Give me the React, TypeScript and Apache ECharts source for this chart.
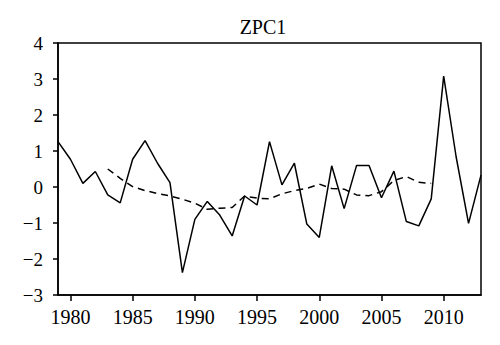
import React, { useEffect, useRef } from "react";
import * as echarts from "echarts";

const years = Array.from({ length: 35 }, (_, i) => 1979 + i);
const zpc1 = [1.26, 0.77, 0.10, 0.43, -0.22, -0.44, 0.77, 1.29, 0.66, 0.12, -2.38, -0.90, -0.40, -0.78, -1.36, -0.25, -0.50, 1.26, 0.06, 0.66, -1.03, -1.40, 0.59, -0.60, 0.60, 0.60, -0.30, 0.44, -0.96, -1.08, -0.33, 3.08, 0.84, -1.01, 0.33];
const trendYears = Array.from({ length: 27 }, (_, i) => 1983 + i);
const trend = [0.50, 0.24, 0.01, -0.10, -0.18, -0.25, -0.34, -0.45, -0.62, -0.59, -0.57, -0.25, -0.31, -0.33, -0.19, -0.10, -0.04, 0.08, -0.04, -0.06, -0.22, -0.24, -0.13, 0.18, 0.29, 0.13, 0.10];
const xTicks = [1980, 1985, 1990, 1995, 2000, 2005, 2010];
const title = "ZPC1";

const FONT = "Liberation Serif";

export default function App() {
  const ref = useRef<HTMLDivElement>(null);
  useEffect(() => {
    const chart = echarts.init(ref.current!, null, { renderer: "svg" });
    chart.setOption({
      animation: false,
      backgroundColor: "#fff",
      textStyle: { fontFamily: FONT, color: "#000" },
      graphic: [
        {
          type: "text",
          x: 263,
          y: 27,
          style: {
            text: title,
            textAlign: "center",
            textVerticalAlign: "middle",
            fontFamily: FONT,
            fontSize: 20,
            fill: "#000",
          },
        },
      ],
      grid: {
        left: 58,
        right: 19,
        top: 43,
        bottom: 50,
        show: true,
        borderColor: "#000",
        borderWidth: 1.5,
      },
      xAxis: {
        type: "value",
        min: 1979,
        max: 2013,
        splitLine: { show: false },
        axisLine: { show: true, onZero: false, lineStyle: { color: "#000", width: 1.5 } },
        axisTick: {
          show: true,
          inside: false,
          length: 6,
          customValues: xTicks,
          lineStyle: { color: "#000", width: 1.5 },
        },
        axisLabel: {
          customValues: xTicks,
          margin: 12,
          color: "#000",
          fontFamily: FONT,
          fontSize: 20,
          formatter: (v: number) => String(v),
        },
      },
      yAxis: {
        type: "value",
        min: -3,
        max: 4,
        interval: 1,
        splitLine: { show: false },
        axisLine: { show: true, onZero: false, lineStyle: { color: "#000", width: 1.5 } },
        axisTick: {
          show: true,
          inside: false,
          length: 5,
          lineStyle: { color: "#000", width: 1.5 },
        },
        axisLabel: {
          margin: 15,
          color: "#000",
          fontFamily: FONT,
          fontSize: 19,
          formatter: (v: number) => String(v).replace("-", "\u2212"),
        },
      },
      series: [
        {
          type: "line",
          data: years.map((y, i) => [y, zpc1[i]]),
          showSymbol: false,
          lineStyle: { color: "#000", width: 1.5 },
        },
        {
          type: "line",
          data: trendYears.map((y, i) => [y, trend[i]]),
          showSymbol: false,
          lineStyle: { color: "#000", width: 1.5, type: [7, 5] },
        },
      ],
    });
    return () => chart.dispose();
  }, []);
  return <div ref={ref} style={{ width: 500, height: 345, position: "absolute", left: 0, top: 0 }} />;
}
